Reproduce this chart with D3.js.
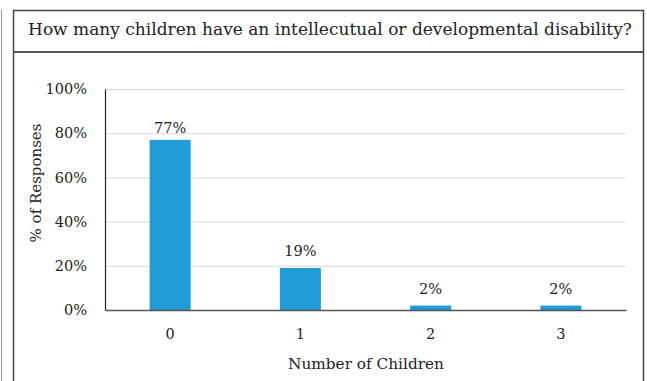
<!DOCTYPE html>
<html>
<head>
<meta charset="utf-8">
<script src="https://cdn.jsdelivr.net/npm/d3@7"></script>
<style>
  html, body { margin: 0; padding: 0; background: #fff; }
  svg { display: block; }
  text { font-family: "DejaVu Serif", "Liberation Serif", serif; fill: #222; }
</style>
</head>
<body>
<div id="chart"></div>
<script>
const title = "How many children have an intellecutual or developmental disability?";
const categories = ["0", "1", "2", "3"];
const values = [77, 19, 2, 2];
const yTicks = [0, 20, 40, 60, 80, 100];
const xTitle = "Number of Children";
const yTitle = "% of Responses";

const W = 647, H = 381;
const svg = d3.select("#chart").append("svg").attr("width", W).attr("height", H);

// outer frame
svg.append("line").attr("x1", 1.5).attr("x2", 1.5).attr("y1", 10).attr("y2", H)
  .attr("stroke", "#999").attr("stroke-width", 1);
svg.append("path").attr("d", `M13.5,${H} V10.5 H643.5 V${H}`)
  .attr("fill", "none").attr("stroke", "#444").attr("stroke-width", 1.5);
svg.append("line").attr("x1", 13).attr("x2", 644).attr("y1", 52).attr("y2", 52)
  .attr("stroke", "#555").attr("stroke-width", 2);

svg.append("text").attr("x", 330).attr("y", 35).attr("text-anchor", "middle")
  .style("font-size", "17px").text(title);

const m = { left: 105, right: 626, top: 89, bottom: 310 };
const x = d3.scaleBand().domain(categories).range([m.left, m.right]).paddingInner(0.685).paddingOuter(0.3425);
const y = d3.scaleLinear().domain([0, 100]).range([m.bottom, m.top]);

// gridlines
svg.append("g").selectAll("line").data(yTicks.filter(d => d > 0)).join("line")
  .attr("x1", m.left).attr("x2", m.right)
  .attr("y1", d => y(d) + 0.5).attr("y2", d => y(d) + 0.5)
  .attr("stroke", "#d9d9d9").attr("stroke-width", 1);

// y axis
const yAxis = svg.append("g").attr("transform", `translate(${m.left},0)`)
  .call(d3.axisLeft(y).tickValues(yTicks).tickFormat(d => d + "%").tickSize(0).tickPadding(18));
yAxis.select(".domain").attr("stroke", "#222").attr("stroke-width", 1.2);
yAxis.selectAll("text").style("font-size", "14.5px").attr("fill", "#222");

// bars
svg.append("g").selectAll("rect").data(values).join("rect")
  .attr("x", (d, i) => x(categories[i]))
  .attr("width", x.bandwidth())
  .attr("y", d => y(d))
  .attr("height", d => y(0) - y(d))
  .attr("fill", "#219bd6");

// labels
svg.append("g").selectAll("text").data(values).join("text")
  .attr("x", (d, i) => x(categories[i]) + x.bandwidth() / 2)
  .attr("y", d => y(d) - (d > 50 ? 7 : 12))
  .attr("text-anchor", "middle")
  .style("font-size", "14.5px")
  .text(d => d + "%");

// x axis
const xAxis = svg.append("g").attr("transform", `translate(0,${m.bottom})`)
  .call(d3.axisBottom(x).tickSize(0).tickPadding(19));
xAxis.select(".domain").attr("stroke", "#555").attr("stroke-width", 1.5);
xAxis.selectAll("text").style("font-size", "14.5px").attr("fill", "#222");

svg.append("text").attr("x", 366).attr("y", 369).attr("text-anchor", "middle")
  .style("font-size", "15.3px").text(xTitle);

svg.append("text").attr("transform", "translate(41,183) rotate(-90)")
  .attr("text-anchor", "middle").style("font-size", "15px").text(yTitle);
</script>
</body>
</html>
